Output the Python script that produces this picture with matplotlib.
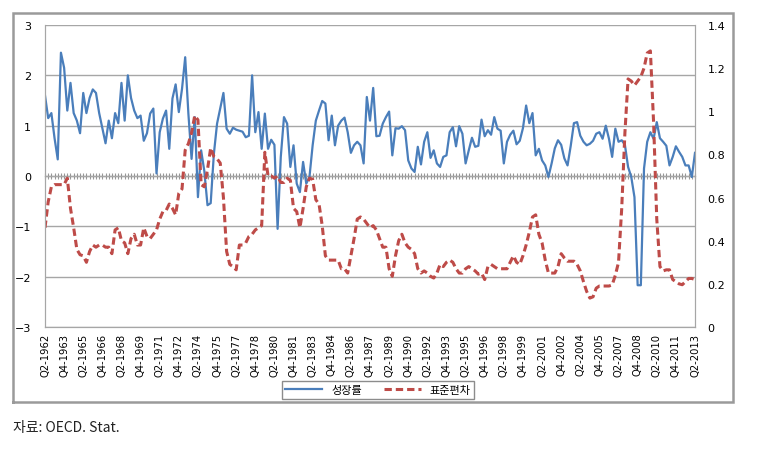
import numpy as np
import matplotlib
matplotlib.use("Agg")
import matplotlib.pyplot as plt
from matplotlib.lines import Line2D
from matplotlib.transforms import Bbox

plt.rcParams["savefig.bbox"] = "standard"

# quarters Q2-1962 .. Q2-2013
quarters = []
for year in range(1962, 2014):
    for q in range(1, 5):
        if (year == 1962 and q < 2) or (year == 2013 and q > 2):
            continue
        quarters.append("Q%d-%d" % (q, year))

# growth rate (left axis)
growth = [
    1.6, 1.15, 1.25, 0.75, 0.33, 2.45, 2.15, 1.3, 1.85, 1.25, 1.1, 0.85, 1.65, 1.25, 1.55, 1.72,
    1.65, 1.25, 0.95, 0.65, 1.1, 0.75, 1.25, 1.05, 1.85, 1.1, 2.0, 1.55, 1.3, 1.15, 1.2, 0.7, 0.85,
    1.24, 1.34, 0.05, 0.87, 1.14, 1.3, 0.54, 1.54, 1.82, 1.27, 1.73, 2.36, 1.24, 0.34, 1.17, -0.42,
    0.51, 0.1, -0.58, -0.54, 0.44, 1.04, 1.35, 1.65, 0.94, 0.84, 0.96, 0.92, 0.9, 0.88, 0.77, 0.8,
    2.0, 0.87, 1.27,
    0.54, 1.24, 0.54, 0.72, 0.62, -1.05, 0.38, 1.17, 1.04, 0.18, 0.61, -0.15, -0.32, 0.28, -0.15,
    -0.02, 0.61, 1.1, 1.3, 1.49, 1.44, 0.71, 1.2, 0.61, 1.0, 1.1, 1.16, 0.87, 0.46, 0.61, 0.68, 0.61,
    0.25, 1.57, 1.1,
    1.75, 0.79, 0.8, 1.04, 1.17, 1.28, 0.41, 0.95, 0.94, 0.99, 0.91, 0.31, 0.15, 0.08, 0.58, 0.23,
    0.68, 0.87, 0.36, 0.51, 0.25, 0.18, 0.38, 0.41, 0.87, 0.97, 0.59, 0.99, 0.84, 0.25, 0.51, 0.76,
    0.58, 0.6,
    1.12, 0.79, 0.91, 0.82, 1.17, 0.94, 0.9, 0.25, 0.68, 0.82, 0.9, 0.63, 0.7, 0.95, 1.4, 1.05, 1.25,
    0.41, 0.54, 0.31, 0.21, -0.02, 0.25, 0.55, 0.71, 0.62, 0.35, 0.21, 0.6, 1.05, 1.07,
    0.8, 0.68, 0.61, 0.64, 0.7, 0.84, 0.87, 0.74, 1.0, 0.74, 0.38, 0.94, 0.68, 0.71, 0.62, 0.18,
    -0.02, -0.42, -2.17, -2.17, 0.15, 0.68, 0.87, 0.74, 1.07, 0.75, 0.68, 0.6, 0.21, 0.38, 0.59,
    0.48, 0.38, 0.21, 0.21, -0.02, 0.46,
]

# standard deviation (right axis)
stdev = [
    0.46, 0.58, 0.65, 0.66, 0.66, 0.66, 0.66, 0.69, 0.55, 0.46, 0.36, 0.335, 0.33, 0.30, 0.35, 0.38,
    0.37, 0.38, 0.38, 0.37, 0.37, 0.34, 0.45, 0.46, 0.40, 0.39, 0.34, 0.41, 0.43, 0.38, 0.38, 0.46, 0.42,
    0.41, 0.43, 0.45, 0.5, 0.535, 0.54, 0.57, 0.55, 0.52, 0.62, 0.64, 0.82, 0.85, 0.9, 0.98, 0.96,
    0.66, 0.65, 0.73, 0.83, 0.79, 0.78, 0.76, 0.6, 0.35, 0.29, 0.28, 0.265, 0.38, 0.38, 0.39, 0.42,
    0.43, 0.45, 0.46,
    0.47, 0.81, 0.70, 0.70, 0.69, 0.70, 0.67, 0.67, 0.69, 0.68, 0.55, 0.535, 0.46, 0.55, 0.65, 0.69,
    0.685, 0.59, 0.57, 0.47, 0.33, 0.31, 0.31, 0.31, 0.31, 0.27, 0.27, 0.25, 0.33, 0.41, 0.5, 0.51,
    0.50, 0.48, 0.46,
    0.47, 0.45, 0.41, 0.37, 0.37, 0.27, 0.235, 0.33, 0.40, 0.43, 0.39, 0.37, 0.36, 0.34, 0.27, 0.25,
    0.26, 0.25, 0.235, 0.227, 0.25, 0.29, 0.28, 0.30, 0.31, 0.30, 0.27, 0.25, 0.25, 0.27, 0.28, 0.27,
    0.26, 0.245,
    0.25, 0.22, 0.28, 0.29, 0.28, 0.27, 0.27, 0.27, 0.27, 0.30, 0.33, 0.30, 0.29, 0.33, 0.38, 0.44,
    0.51, 0.52, 0.43, 0.39, 0.31, 0.25, 0.25, 0.25, 0.28, 0.34, 0.32, 0.305, 0.305, 0.305, 0.29,
    0.26, 0.21, 0.165, 0.134, 0.14, 0.18, 0.19, 0.19, 0.19, 0.19, 0.195, 0.24, 0.30, 0.55, 0.9, 1.15,
    1.14, 1.12, 1.14, 1.16, 1.2, 1.27, 1.28, 0.95, 0.5, 0.28, 0.26, 0.265, 0.265, 0.22, 0.21, 0.20,
    0.196, 0.21, 0.225, 0.225, 0.22,
]

x = np.arange(len(quarters))
grid_c = "#a6a6a6"
W, H = 758, 452

fig = plt.figure(figsize=(W / 100, H / 100), dpi=100)

# outer chart border (pixel box 13..733 x 14..403)
bx0, bx1 = 13 / W, 733 / W
by0, by1 = 1 - 403 / H, 1 - 14 / H
fig.add_artist(Line2D([bx0, bx1, bx1, bx0, bx0], [by0, by0, by1, by1, by0],
                      transform=fig.transFigure, color="#9a9a9a", linewidth=1.8,
                      solid_joinstyle="miter"))

ax = fig.add_axes([45 / W, 1 - 328 / H, 650 / W, 302 / H])
ax2 = ax.twinx()

l1, = ax.plot(x, growth, color="#4a7ebb", linewidth=1.6, label="성장률")
l2, = ax2.plot(x, stdev, color="#be4b48", linewidth=2.2, linestyle=(0, (2.4, 1.3)), label="표준편차")

ax.set_xlim(0, len(quarters) - 1)
ax.set_ylim(-3, 3)
ax.set_yticks(range(-3, 4))
ax.yaxis.grid(True, color=grid_c, linewidth=1)
ax.set_axisbelow(True)
ax2.set_ylim(0, 1.4)
ax2.set_yticks(np.arange(0, 1.41, 0.2))
ax2.set_yticklabels(["%g" % round(v, 1) for v in np.arange(0, 1.41, 0.2)])

for a in (ax, ax2):
    a.spines["top"].set_visible(False)
    for s in ("left", "right", "bottom"):
        a.spines[s].set_color(grid_c)
ax.tick_params(axis="y", length=0, labelsize=8, pad=10)
ax2.tick_params(axis="y", length=0, labelsize=8, pad=9)

# category labels at the bottom
ax.set_xticks(x[::6])
ax.set_xticklabels(quarters[::6], rotation=90, fontsize=7.2, family="DejaVu Sans")
ax.tick_params(axis="x", length=0, pad=4)

# category axis crossing at 0 with a tick per quarter
zero_ax = ax.secondary_xaxis(0.5)
zero_ax.set_xticks(x)
zero_ax.set_xticklabels([])
zero_ax.tick_params(axis="x", direction="inout", length=4, color="#999999", width=0.8)
zero_ax.spines["bottom"].set_color("#999999")

fig.legend(handles=[l1, l2], loc="center", bbox_to_anchor=(378 / W, 1 - 391 / H),
           ncol=2, frameon=True, fancybox=False, edgecolor="#8c8c8c", framealpha=1,
           prop={"family": ["Noto Sans CJK KR", "DejaVu Sans"], "size": 8},
           handlelength=3.3, columnspacing=2.0, borderpad=0.35)

fig.text(13 / W, 1 - 428 / H, "자료: OECD. Stat.", fontsize=10,
         family=["Noto Sans CJK KR", "DejaVu Sans"], va="center", ha="left", color="#222222")

fig.savefig("out.png", dpi=100, bbox_inches=Bbox.from_bounds(0, 0, W / 100, H / 100))
